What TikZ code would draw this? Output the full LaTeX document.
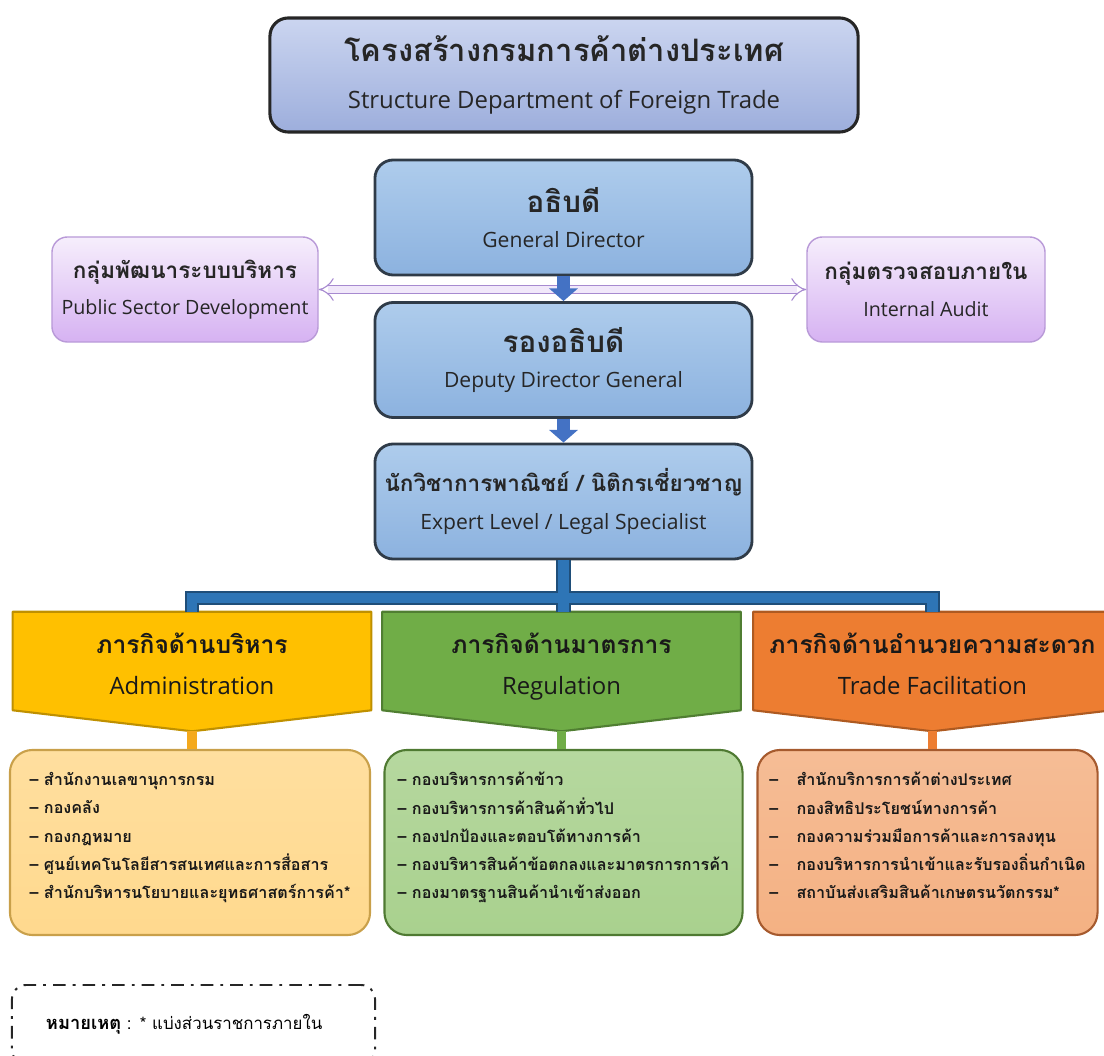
\documentclass[tikz,border=0pt]{standalone}
\usepackage{fontspec}
\setmainfont{Open Sans}
\newfontfamily\thai[Script=Thai]{Loma}
\usepackage{xcolor}
\usetikzlibrary{arrows.meta, positioning, backgrounds, calc}

\definecolor{titletop}{HTML}{CBD5F0}
\definecolor{titlebot}{HTML}{9DAEDC}
\definecolor{chieftop}{HTML}{AECCEC}
\definecolor{chiefbot}{HTML}{8CB2DF}
\definecolor{chiefline}{HTML}{2F3B48}
\definecolor{sidetop}{HTML}{F6EEFC}
\definecolor{sidebot}{HTML}{D6B2F2}
\definecolor{sideline}{HTML}{B99AD8}
\definecolor{twowayline}{HTML}{A78AD0}
\definecolor{twowayfill}{HTML}{F1E8FA}
\definecolor{arrowblue}{HTML}{4472C4}
\definecolor{barline}{HTML}{1F4E79}
\definecolor{barblue}{HTML}{2E75B6}
\definecolor{adminfill}{HTML}{FFC000}
\definecolor{adminline}{HTML}{BF9000}
\definecolor{adminlink}{HTML}{F4A91C}
\definecolor{adminlist}{HTML}{FFD98E}
\definecolor{adminedge}{HTML}{C9A04A}
\definecolor{regfill}{HTML}{70AD47}
\definecolor{regline}{HTML}{507E32}
\definecolor{reglist}{HTML}{A9D18E}
\definecolor{regedge}{HTML}{4F7A32}
\definecolor{tradefill}{HTML}{ED7D31}
\definecolor{tradeline}{HTML}{AE5A21}
\definecolor{tradelist}{HTML}{F4B183}
\definecolor{tradeedge}{HTML}{A65A2E}

\begin{document}
\begin{tikzpicture}[
    x=0.025cm, y=-0.025cm,
    titlebox/.style={rectangle, draw=black!85, line width=2.2pt, rounded corners=13pt, top color=titletop, bottom color=titlebot, minimum width=14.7cm, minimum height=2.85cm, align=center, text=black!85},
    chiefbox/.style={rectangle, draw=chiefline, line width=2pt, rounded corners=13pt, top color=chieftop, bottom color=chiefbot, minimum width=9.425cm, minimum height=2.875cm, align=center, text=black!85},
    sidebox/.style={rectangle, draw=sideline, line width=1pt, rounded corners=11pt, top color=sidetop, bottom color=sidebot, minimum height=2.625cm, align=center, text=black!85},
    catbox/.style={rectangle, minimum width=8.95cm, minimum height=2.45cm, align=center, text=black!90},
    listbox/.style={rectangle, line width=1.5pt, rounded corners=16pt, minimum height=4.625cm, align=left, font=\thai\bfseries\fontsize{11.5}{20}\selectfont, text=black!90},
    notebox/.style={rectangle, draw=black!85, line width=1.4pt, rounded corners=10pt, dash pattern=on 9pt off 5pt on 2pt off 5pt, minimum height=1.975cm, text width=7.375cm, inner xsep=0.85cm, align=left, font=\thai\fontsize{12}{14}\selectfont},
    downarrow/.style={draw=arrowblue, line width=9pt, -{Triangle[length=9pt, width=20pt]}},
    twoway/.style={draw=twowayline, double=twowayfill, double distance=5pt, line width=0.8pt, {Implies[length=7pt, width=15pt]}-{Implies[length=7pt, width=15pt]}},
    barout/.style={draw=barline, line width=10pt},
    barin/.style={draw=barblue, line width=7.6pt},
    link/.style={line width=7pt}
]
\useasboundingbox (0,0) rectangle (1104,1056);

% Nodes
\node[titlebox] (title) at (564,75) {{\thai\bfseries\fontsize{22}{26}\selectfont โครงสร้างกรมการค้าต่างประเทศ}\\[19pt]{\fontsize{17}{20}\selectfont Structure Department of Foreign Trade}};

\node[chiefbox] (gd) at (563.5,217.5) {{\thai\bfseries\fontsize{21}{24}\selectfont อธิบดี}\\[13pt]{\fontsize{15}{18}\selectfont General Director}};
\node[chiefbox] (deputy) at (563.5,360) {{\thai\bfseries\fontsize{21}{24}\selectfont รองอธิบดี}\\[13pt]{\fontsize{15}{18}\selectfont Deputy Director General}};
\node[chiefbox] (expert) at (563.5,501.5) {{\thai\bfseries\fontsize{16}{19}\selectfont นักวิชาการพาณิชย์ / นิติกรเชี่ยวชาญ}\\[12pt]{\fontsize{15}{18}\selectfont Expert Level / Legal Specialist}};

\node[sidebox, minimum width=6.65cm] (pubsec) at (185,289.5) {{\thai\bfseries\fontsize{16}{19}\selectfont กลุ่มพัฒนาระบบบริหาร}\\[10pt]{\fontsize{14}{17}\selectfont Public Sector Development}};
\node[sidebox, minimum width=5.95cm] (audit) at (926,289.5) {{\thai\bfseries\fontsize{16}{19}\selectfont กลุ่มตรวจสอบภายใน}\\[10pt]{\fontsize{14}{17}\selectfont Internal Audit}};

% Mission groups
\node[catbox] (admin) at (192,661) {{\thai\bfseries\fontsize{17.5}{21}\selectfont\rule{0pt}{25pt}ภารกิจด้านบริหาร}\\[14pt]{\fontsize{17}{20}\selectfont\strut Administration}};
\node[catbox] (reg) at (561.5,661) {{\thai\bfseries\fontsize{17.5}{21}\selectfont\rule{0pt}{25pt}ภารกิจด้านมาตรการ}\\[14pt]{\fontsize{17}{20}\selectfont\strut Regulation}};
\node[catbox] (trade) at (932.5,661) {{\thai\bfseries\fontsize{17.5}{21}\selectfont\rule{0pt}{25pt}ภารกิจด้านอำนวยความสะดวก}\\[14pt]{\fontsize{17}{20}\selectfont\strut Trade Facilitation}};

\coordinate (admintip) at ($(admin.south)+(0,21)$);
\coordinate (regtip) at ($(reg.south)+(0,21)$);
\coordinate (tradetip) at ($(trade.south)+(0,21)$);

\begin{scope}[on background layer]
\filldraw[fill=adminfill, draw=adminline, line width=1.5pt, line join=round] (admin.north west) -- (admin.north east) -- (admin.south east) -- (admintip) -- (admin.south west) -- cycle;
\filldraw[fill=regfill, draw=regline, line width=1.5pt, line join=round] (reg.north west) -- (reg.north east) -- (reg.south east) -- (regtip) -- (reg.south west) -- cycle;
\filldraw[fill=tradefill, draw=tradeline, line width=1.5pt, line join=round] (trade.north west) -- (trade.north east) -- (trade.south east) -- (tradetip) -- (trade.south west) -- cycle;
\end{scope}

% Lists
\node[listbox, draw=adminedge, top color=adminlist!85!white, bottom color=adminlist, minimum width=9cm] (adminbox) at (190,842.5) {%
– สำนักงานเลขานุการกรม\\
– กองคลัง\\
– กองกฎหมาย\\
– ศูนย์เทคโนโลยีสารสนเทศและการสื่อสาร\\
– สำนักบริหารนโยบายและยุทธศาสตร์การค้า*\rule[-10pt]{0pt}{0pt}};
\node[listbox, draw=regedge, top color=reglist!85!white, bottom color=reglist, minimum width=8.95cm] (regbox) at (563.5,842.5) {%
– กองบริหารการค้าข้าว\\
– กองบริหารการค้าสินค้าทั่วไป\\
– กองปกป้องและตอบโต้ทางการค้า\\
– กองบริหารสินค้าข้อตกลงและมาตรการการค้า\\
– กองมาตรฐานสินค้านำเข้าส่งออก\rule[-10pt]{0pt}{0pt}};
\node[listbox, draw=tradeedge, top color=tradelist!85!white, bottom color=tradelist, minimum width=8.5cm] (tradebox) at (927.5,842.5) {%
–\hspace{13pt}สำนักบริการการค้าต่างประเทศ\\
–\hspace{13pt}กองสิทธิประโยชน์ทางการค้า\\
–\hspace{13pt}กองความร่วมมือการค้าและการลงทุน\\
–\hspace{13pt}กองบริหารการนำเข้าและรับรองถิ่นกำเนิด\\
–\hspace{13pt}สถาบันส่งเสริมสินค้าเกษตรนวัตกรรม*\rule[-10pt]{0pt}{0pt}};

\node[notebox] (note) at (193.5,1024.5) {{\bfseries\fontsize{13}{15}\selectfont หมายเหตุ} : * แบ่งส่วนราชการภายใน};

% Connections
\draw[twoway] (pubsec.east) -- (audit.west);
\draw[downarrow] (gd.south) -- (deputy.north);
\draw[downarrow] (deputy.south) -- (expert.north);

\coordinate (bar) at (563.5,598);
\foreach \s in {barout,barin} {
  \draw[\s] (expert.south) -- (bar);
  \draw[\s, line join=miter] (admin.north) |- (bar) -| (trade.north);
  \draw[\s] (bar) -- (bar |- reg.north);
}

\draw[link, draw=adminlink] (admintip) -- (admintip |- adminbox.north);
\draw[link, draw=regfill] (regtip) -- (regtip |- regbox.north);
\draw[link, draw=tradefill] (tradetip) -- (tradetip |- tradebox.north);

\end{tikzpicture}
\end{document}
